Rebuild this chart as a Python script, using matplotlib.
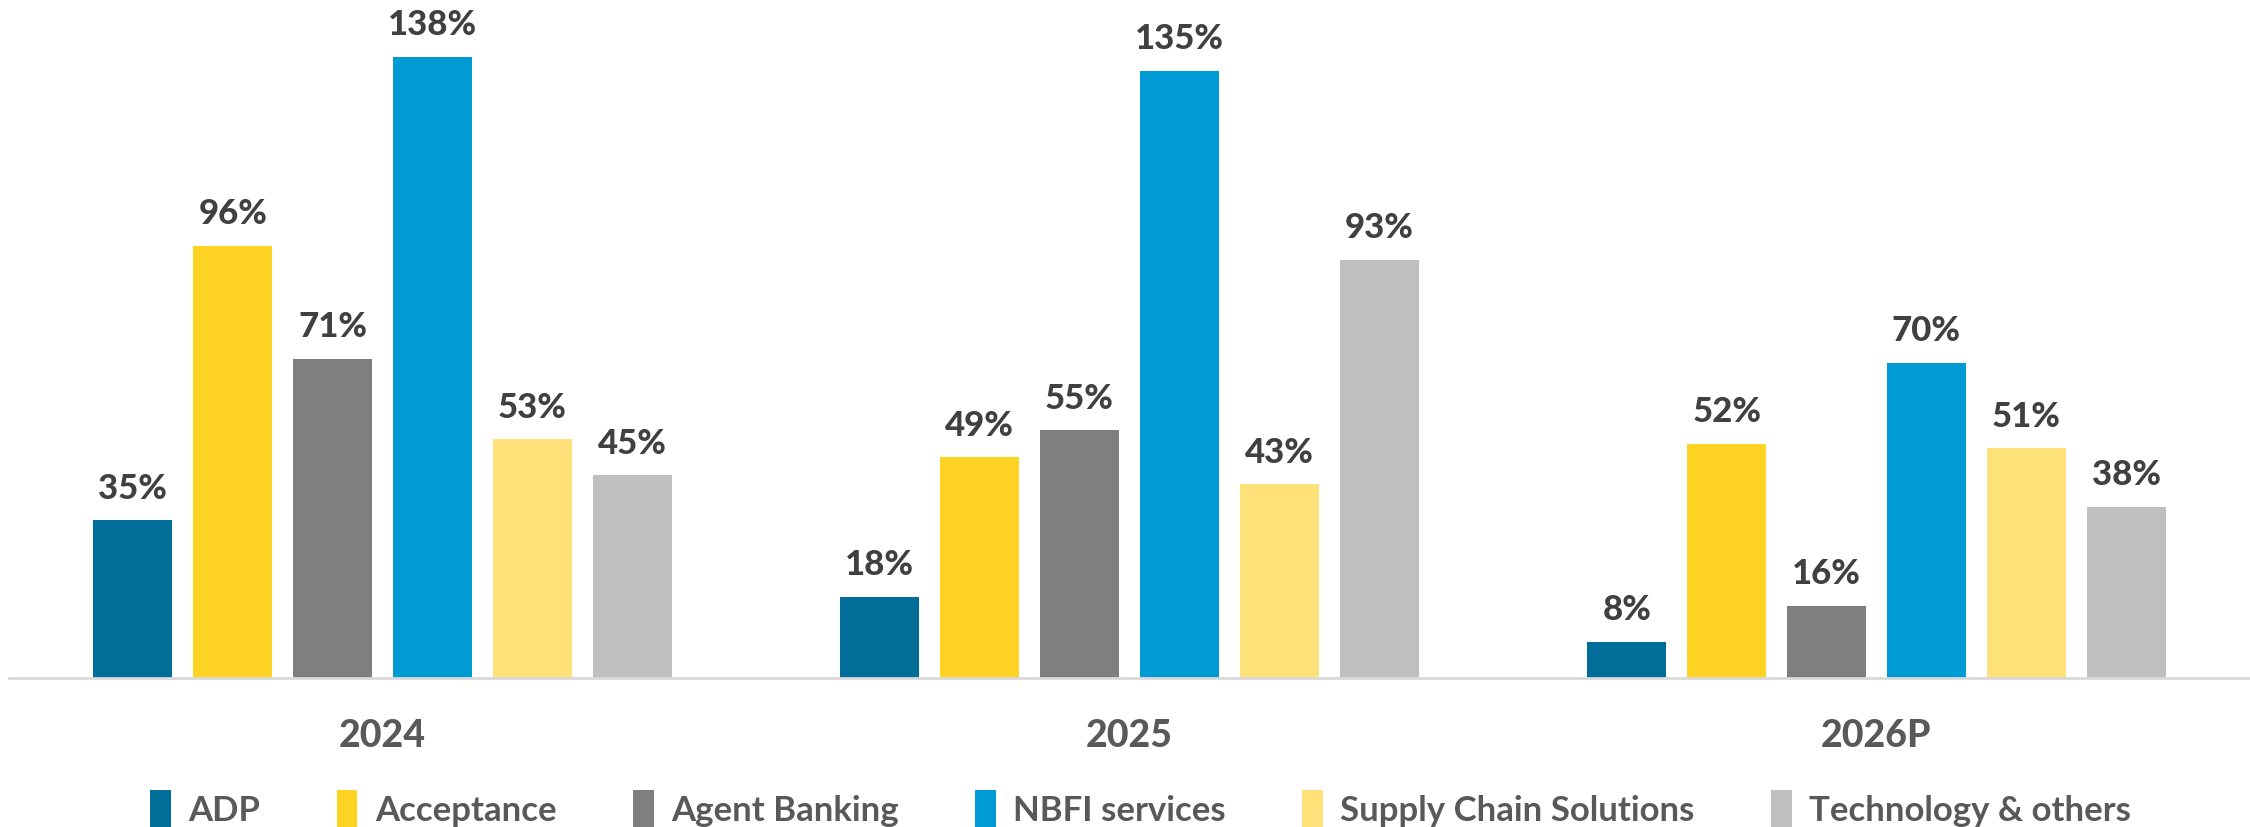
import matplotlib
matplotlib.use("Agg")
import matplotlib.pyplot as plt
import numpy as np

categories = ["2024", "2025", "2026P"]
series_names = ["ADP", "Acceptance", "Agent Banking", "NBFI services",
                "Supply Chain Solutions", "Technology & others"]
adp = [35, 18, 8]
acceptance = [96, 49, 52]
agent_banking = [71, 55, 16]
nbfi = [138, 135, 70]
supply_chain = [53, 43, 51]
technology = [45, 93, 38]
series_values = [adp, acceptance, agent_banking, nbfi, supply_chain, technology]
colors = ["#006E99", "#FFD324", "#7F7F7F", "#009BD5", "#FFE17A", "#BFBFBF"]

plt.rcParams['font.family'] = ['Lato', 'DejaVu Sans']

fig = plt.figure(figsize=(22.5, 8.28), dpi=100)
ax = fig.add_axes([0.004, 0.18, 0.996, 0.82])

x = np.arange(len(categories))
pitch = 0.1337
width = 0.1056
n = len(series_names)
for i, (name, vals, c) in enumerate(zip(series_names, series_values, colors)):
    pos = x + (i - (n - 1) / 2) * pitch
    bars = ax.bar(pos, vals, width=width, color=c, label=name, zorder=2)
    ax.bar_label(bars, labels=[f"{v}%" for v in vals], padding=12,
                 fontsize=25, fontweight='black', color='#404040')

ax.set_xlim(-0.5, 2.5)
ax.set_ylim(0, 150.9)
ax.set_yticks([])
for s in ['top', 'right', 'left']:
    ax.spines[s].set_visible(False)
ax.spines['bottom'].set_color('#D9D9D9')
ax.spines['bottom'].set_linewidth(2)
ax.set_xticks(x)
ax.set_xticklabels(categories, fontsize=27, fontweight='black', color='#595959')
ax.tick_params(axis='x', length=0, pad=29)

handles, labels = ax.get_legend_handles_labels()
fig.legend(handles, labels, loc='center', bbox_to_anchor=(0.507, 0.022), ncol=6,
           frameon=False, prop={'weight': 'bold', 'size': 25},
           labelcolor='#595959', handlelength=0.6, handleheight=1.3,
           handletextpad=0.5, columnspacing=2.2)

fig.savefig("out.png", dpi=100)
